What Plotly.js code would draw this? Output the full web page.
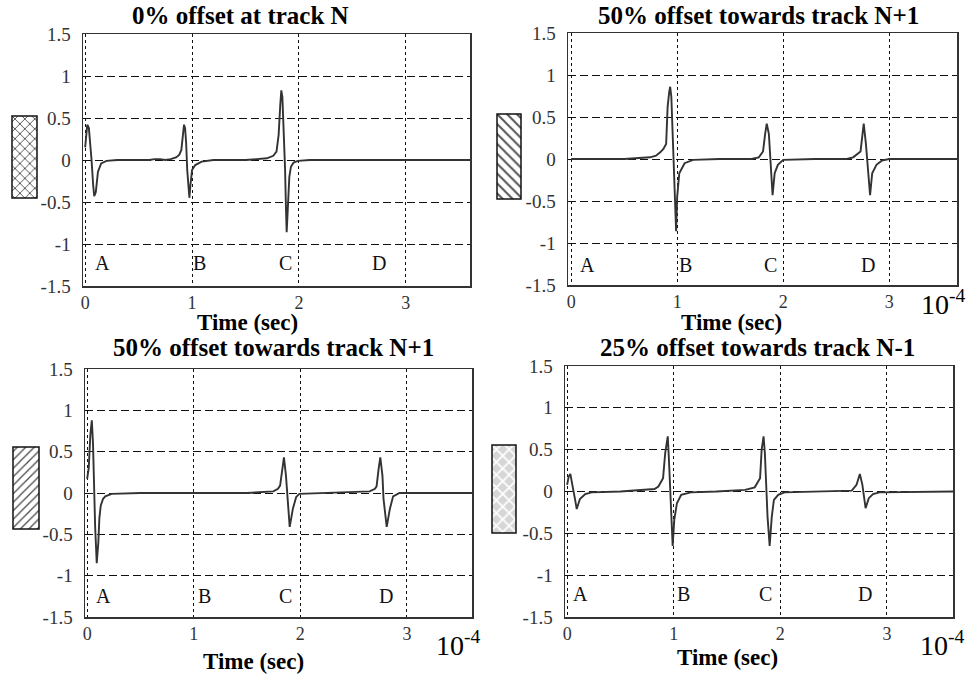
<!DOCTYPE html>
<html><head><meta charset="utf-8">
<script src="https://cdn.plot.ly/plotly-3.0.1.min.js"></script>
<style>html,body{margin:0;padding:0;background:#fff;}#chart{width:968px;height:677px;}</style>
</head><body><div id="chart"></div>
<script>
// ---------------- data ----------------
const panelTitles = ['0% offset at track N', '50% offset towards track N+1', '50% offset towards track N+1', '25% offset towards track N-1'];
const xAxisTitle = 'Time (sec)';
const scaleLabel = '10<sup>-4</sup>';
const pulseLabels = ['A', 'B', 'C', 'D'];
const labelTimes1 = [0.16, 1.07, 1.87, 2.75];
const labelTimes2 = [0.15, 1.08, 1.88, 2.80];
const labelTimes3 = [0.15, 1.10, 1.865, 2.80];
const labelTimes4 = [0.13, 1.09, 1.86, 2.79];
const labelLevels = [-1.23, -1.26, -1.25, -1.23];
const yTickVals = [-1.5, -1, -0.5, 0, 0.5, 1, 1.5];
const yTickText = ['-1.5', '-1', '-0.5', '0', '0.5', '1', '1.5'];
const xTickVals = [0, 1, 2, 3];
const xTickText = ['0', '1', '2', '3'];

const t1 = [0, 0.01, 0.02, 0.035, 0.05, 0.06, 0.075, 0.085, 0.1, 0.12, 0.15, 0.2, 0.3, 0.6, 0.65, 0.7, 0.75, 0.8, 0.85, 0.88, 0.9, 0.915, 0.925, 0.935, 0.945, 0.955, 0.965, 0.975, 0.985, 1.0, 1.03, 1.09, 1.2, 1.5, 1.7, 1.76, 1.79, 1.81, 1.825, 1.835, 1.845, 1.86, 1.87, 1.878, 1.885, 1.895, 1.91, 1.925, 1.95, 1.99, 2.1, 3.6];
const v1 = [0.15, 0.35, 0.42, 0.38, 0.2, 0.0, -0.3, -0.43, -0.38, -0.14, -0.04, -0.01, 0, 0, 0.01, 0.01, 0, 0.01, 0.03, 0.06, 0.12, 0.3, 0.42, 0.38, 0.2, -0.12, -0.35, -0.45, -0.3, -0.12, -0.06, -0.02, 0, 0, 0.02, 0.05, 0.1, 0.3, 0.65, 0.83, 0.75, 0.3, -0.1, -0.55, -0.86, -0.6, -0.2, -0.08, -0.03, -0.01, 0, 0];

const t2 = [0, 0.5, 0.745, 0.8, 0.84, 0.87, 0.896, 0.91, 0.925, 0.934, 0.945, 0.955, 0.97, 0.98, 0.99, 1.0, 1.02, 1.07, 1.15, 1.4, 1.7, 1.77, 1.81, 1.83, 1.845, 1.865, 1.885, 1.9, 1.92, 1.95, 2.0, 2.3, 2.6, 2.66, 2.73, 2.745, 2.76, 2.78, 2.795, 2.82, 2.84, 2.88, 2.93, 3.0, 3.64];
const v2 = [0, 0, 0.02, 0.04, 0.08, 0.12, 0.18, 0.62, 0.8, 0.86, 0.74, 0.4, 0.05, -0.45, -0.86, -0.45, -0.17, -0.05, -0.01, 0, 0, 0.02, 0.09, 0.3, 0.42, 0.3, -0.05, -0.43, -0.17, -0.07, -0.01, 0, 0, 0.02, 0.09, 0.3, 0.42, 0.19, -0.05, -0.43, -0.17, -0.07, -0.02, 0, 0];

const t3 = [0, 0.015, 0.03, 0.044, 0.055, 0.066, 0.075, 0.09, 0.105, 0.115, 0.128, 0.15, 0.17, 0.23, 0.5, 1.0, 1.5, 1.746, 1.79, 1.81, 1.83, 1.846, 1.865, 1.878, 1.9, 1.93, 1.96, 1.99, 2.3, 2.65, 2.7, 2.715, 2.735, 2.75, 2.77, 2.78, 2.81, 2.84, 2.87, 2.93, 3.61];
const v3 = [0.17, 0.3, 0.7, 0.88, 0.6, 0.01, -0.4, -0.85, -0.6, -0.3, -0.15, -0.07, -0.04, -0.01, 0, 0, 0, 0.02, 0.05, 0.09, 0.3, 0.43, 0.21, -0.07, -0.41, -0.19, -0.05, -0.01, 0, 0.02, 0.05, 0.08, 0.3, 0.43, 0.21, -0.07, -0.41, -0.19, -0.04, 0, 0];

const t4 = [0, 0.015, 0.03, 0.045, 0.06, 0.075, 0.09, 0.12, 0.17, 0.23, 0.5, 0.76, 0.82, 0.856, 0.9, 0.92, 0.944, 0.955, 0.97, 0.975, 0.99, 1.005, 1.03, 1.07, 1.16, 1.4, 1.67, 1.76, 1.81, 1.825, 1.843, 1.855, 1.87, 1.88, 1.9, 1.92, 1.94, 1.98, 2.04, 2.3, 2.67, 2.715, 2.746, 2.77, 2.78, 2.8, 2.83, 2.87, 2.93, 3.62];
const v4 = [0.08, 0.18, 0.21, 0.12, 0.02, -0.1, -0.21, -0.09, -0.03, -0.01, 0, 0.02, 0.03, 0.06, 0.16, 0.46, 0.66, 0.38, -0.06, -0.3, -0.65, -0.34, -0.14, -0.04, -0.01, 0, 0.02, 0.05, 0.16, 0.5, 0.66, 0.46, -0.02, -0.3, -0.65, -0.3, -0.1, -0.04, -0.01, 0, 0.01, 0.08, 0.21, 0.08, -0.04, -0.2, -0.08, -0.03, -0.01, 0];

const swatchValue = [1];

// ---------------- layout geometry (pixels) ----------------
const W = 968, H = 677;
const fx = p => p / W;
const fy = p => 1 - p / H;
const SERIF = 'Liberation Serif, Times New Roman, serif';

const panels = [
  {t: t1, v: v1, labels: labelTimes1, box: [83, 470, 34, 286], xr: [-0.02, 3.6], title: [240, 16], xt: [247, 322], scale: null, sw: [12, 37, 116, 198],
   pat: {shape: 'x', fgcolor: '#333', bgcolor: '#ffffff', size: 7, solidity: 0.22}},
  {t: t2, v: v2, labels: labelTimes2, box: [568, 957, 33, 285], xr: [-0.03, 3.64], title: [758, 16], xt: [731, 322], scale: [943, 302], sw: [497, 521, 114, 199],
   pat: {shape: '\\', fgcolor: '#555', bgcolor: '#ffffff', size: 7, solidity: 0.28}},
  {t: t3, v: v3, labels: labelTimes3, box: [85, 472, 369, 617], xr: [-0.02, 3.61], title: [273, 347], xt: [253, 661], scale: [458, 643], sw: [13, 39, 447, 529],
   pat: {shape: '/', fgcolor: '#444', bgcolor: '#ffffff', size: 6, solidity: 0.2}},
  {t: t4, v: v4, labels: labelTimes4, box: [565, 953, 366, 617], xr: [-0.02, 3.62], title: [757, 347], xt: [727, 657], scale: [942, 643], sw: [492, 516, 445, 533],
   pat: {shape: 'x', fgcolor: '#ffffff', bgcolor: '#d6d6d6', size: 9, solidity: 0.35}}
];

const traces = [];
const layout = {
  width: W, height: H,
  margin: {l: 0, r: 0, t: 0, b: 0},
  paper_bgcolor: '#ffffff', plot_bgcolor: '#ffffff',
  showlegend: false,
  font: {family: SERIF, color: '#222'},
  annotations: []
};

panels.forEach((p, i) => {
  const n = i + 1;
  const sn = n + 4;
  const xa = n === 1 ? 'xaxis' : 'xaxis' + n;
  const ya = n === 1 ? 'yaxis' : 'yaxis' + n;
  const xref = n === 1 ? 'x' : 'x' + n;
  const yref = n === 1 ? 'y' : 'y' + n;

  traces.push({
    type: 'scatter', mode: 'lines', x: p.t, y: p.v, xaxis: xref, yaxis: yref,
    line: {color: '#333333', width: 1.9}, hoverinfo: 'skip'
  });

  layout[xa] = {
    domain: [fx(p.box[0]), fx(p.box[1])], anchor: yref, range: p.xr,
    tickvals: xTickVals, ticktext: xTickText, ticks: '', ticklabelstandoff: 0,
    tickfont: {family: SERIF, size: 18, color: '#333'},
    showgrid: true, gridcolor: '#111', gridwidth: 1, griddash: '3px,3px',
    zeroline: false, showline: true, mirror: true, linecolor: '#333', linewidth: 1.5,
    fixedrange: true
  };
  layout[ya] = {
    domain: [fy(p.box[3]), fy(p.box[2])], anchor: xref, range: [-1.5, 1.5],
    tickvals: yTickVals, ticktext: yTickText, ticks: '', ticklabelstandoff: 7,
    tickfont: {family: SERIF, size: 19, color: '#333'},
    showgrid: true, gridcolor: '#111', gridwidth: 1, griddash: '8px,4px',
    zeroline: false, showline: true, mirror: true, linecolor: '#333', linewidth: 1.5,
    fixedrange: true
  };

  layout.annotations.push({
    text: '<b>' + panelTitles[i] + '</b>', xref: 'paper', yref: 'paper',
    x: fx(p.title[0]), y: fy(p.title[1]), xanchor: 'center', yanchor: 'middle',
    showarrow: false, font: {family: SERIF, size: 25, color: '#000'}
  });
  layout.annotations.push({
    text: '<b>' + xAxisTitle + '</b>', xref: 'paper', yref: 'paper',
    x: fx(p.xt[0]), y: fy(p.xt[1]), xanchor: 'center', yanchor: 'middle',
    showarrow: false, font: {family: SERIF, size: 23, color: '#000'}
  });
  pulseLabels.forEach((lab, k) => {
    layout.annotations.push({
      text: lab, xref: xref, yref: yref, x: p.labels[k], y: labelLevels[i],
      xanchor: 'center', yanchor: 'middle', showarrow: false,
      font: {family: SERIF, size: 20, color: '#111'}
    });
  });
  if (p.scale) {
    layout.annotations.push({
      text: scaleLabel, xref: 'paper', yref: 'paper',
      x: fx(p.scale[0]), y: fy(p.scale[1]), xanchor: 'center', yanchor: 'middle',
      showarrow: false, font: {family: SERIF, size: 28, color: '#000'}
    });
  }

  const pad = 2;
  const w = p.sw[1] - p.sw[0], h = p.sw[3] - p.sw[2];
  const hx = 0.5 * (w + 2 * pad) / w;
  const padY = pad / h;
  const sxa = 'xaxis' + sn, sya = 'yaxis' + sn;
  traces.push({
    type: 'bar', x: [0], y: swatchValue, width: [1], xaxis: 'x' + sn, yaxis: 'y' + sn,
    marker: {color: p.pat.bgcolor, line: {color: '#111', width: 1.5}, pattern: p.pat},
    hoverinfo: 'skip'
  });
  layout[sxa] = {domain: [fx(p.sw[0] - pad), fx(p.sw[1] + pad)], anchor: 'y' + sn, range: [-hx, hx], visible: false, fixedrange: true};
  layout[sya] = {domain: [fy(p.sw[3] + pad), fy(p.sw[2] - pad)], anchor: 'x' + sn, range: [-padY, 1 + padY], visible: false, fixedrange: true};
});

Plotly.newPlot('chart', traces, layout, {displayModeBar: false, staticPlot: true});
</script>
</body></html>
